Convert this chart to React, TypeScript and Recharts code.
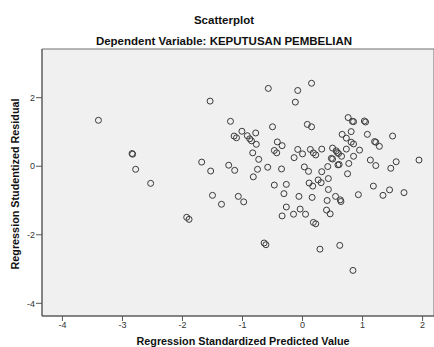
import React from "react";
import { ScatterChart, Scatter, XAxis, YAxis, ReferenceArea } from "recharts";

const chartTitle = "Scatterplot";
const chartSubtitle = "Dependent Variable: KEPUTUSAN PEMBELIAN";
const xLabel = "Regression Standardized Predicted Value";
const yLabel = "Regression Studentized Residual";

const xTicks = [-4, -3, -2, -1, 0, 1, 2];
const yTicks = [-4, -2, 0, 2];

const predicted = [
  -3.4, -2.84, -2.83, -2.78, -2.53, -1.93, -1.89, -1.68, -1.54, -1.53, -1.5, -1.35,
  -1.23, -1.2, -1.14, -1.1, -1.13, -1.07, -1.01, -0.98, -0.92, -0.88, -0.85, -0.83,
  -0.82, -0.78, -0.77, -0.75, -0.73, -0.64, -0.61, -0.57, -0.58, -0.5, -0.47, -0.43,
  -0.47, -0.42, -0.34, -0.35, -0.31, -0.27, -0.27, -0.34, -0.14, -0.15, -0.12, -0.08,
  -0.08, -0.06, -0.04, 0.0, 0.03, 0.1, 0.05, 0.08, 0.15, 0.15, 0.13, 0.11,
  0.17, 0.16, 0.18, 0.22, 0.18, 0.22, 0.26, 0.31, 0.29, 0.32, 0.32, 0.4,
  0.41, 0.42, 0.43, 0.43, 0.46, 0.5, 0.48, 0.5, 0.56, 0.58, 0.6, 0.59,
  0.61, 0.55, 0.63, 0.64, 0.62, 0.65, 0.66, 0.73, 0.73, 0.75, 0.77, 0.76,
  0.83, 0.85, 0.81, 0.81, 0.85, 0.85, 0.84, 0.93, 0.95, 1.03, 1.05, 1.08,
  1.13, 1.18, 1.2, 1.22, 1.22, 1.28, 1.34, 1.45, 1.47, 1.5, 1.56, 1.69, 1.94,
];

const residual = [
  1.34, 0.37, 0.35, -0.09, -0.5, -1.49, -1.55, 0.12, 1.9, -0.14, -0.85, -1.11,
  0.03, 1.31, 0.88, 0.83, -0.12, -0.88, 1.02, -1.04, 0.89, 0.8, 0.74, 0.39,
  -0.31, 0.97, 0.64, -0.09, 0.2, -2.24, -2.29, 2.27, -0.03, 1.15, 0.46, 0.39,
  -0.55, 0.71, 0.6, -0.08, -0.8, -0.53, -1.19, -1.45, 0.25, -1.4, 1.87, 2.21,
  0.49, -0.88, -1.25, 0.36, -0.02, -0.15, -1.4, 1.22, 1.15, 2.42, 0.49, -0.49,
  -0.58, -0.91, 0.39, 0.33, -1.64, -1.68, -0.4, -0.48, -2.42, 0.5, -0.16, -1.28,
  -1.0, -0.01, -0.36, -0.68, -1.39, 0.53, 0.23, 0.21, 0.45, 0.4, 0.37, 0.04,
  0.05, -0.88, -0.98, -1.03, -2.31, 0.29, 0.93, 0.82, 0.5, -0.22, 0.08, 1.42,
  1.31, 1.3, 1.01, 0.7, 0.65, 0.29, -3.04, -0.83, 0.47, 1.32, 1.29, 0.93,
  0.18, -0.58, 0.72, 0.7, 0.02, 0.58, -0.85, -0.69, -0.06, 0.88, 0.13, -0.77, 0.18,
];

const data = predicted.map((x, i) => ({ x, y: residual[i] }));

const FONT = "'Liberation Sans', Arial, sans-serif";

const OpenCircle = (props: any) => {
  const { cx, cy } = props;
  if (cx == null || cy == null) return null;
  return <circle cx={cx} cy={cy} r={3} fill="none" stroke="#3a3a3a" strokeWidth={1} />;
};

export default function App() {
  return (
    <div
      style={{
        position: "absolute",
        left: 0,
        top: 0,
        width: 434,
        height: 347,
        overflow: "hidden",
        background: "#ffffff",
        fontFamily: FONT,
      }}
    >
      <ScatterChart
        width={434}
        height={347}
        margin={{ top: 49, right: 0, bottom: 0, left: 0 }}
      >
        <ReferenceArea
          x1={-4.34}
          x2={2.19}
          y1={-4.37}
          y2={3.42}
          fill="#f0f0f0"
          fillOpacity={1}
          stroke="#707070"
          strokeWidth={1}
          ifOverflow="extendDomain"
        />
        <XAxis
          type="number"
          dataKey="x"
          domain={[-4.34, 2.19]}
          ticks={xTicks}
          allowDataOverflow
          height={31}
          tickSize={5}
          tickMargin={1}
          stroke="#555555"
          tick={{ fill: "#333333", fontSize: 9, fontFamily: FONT }}
        />
        <YAxis
          type="number"
          dataKey="y"
          domain={[-4.37, 3.42]}
          ticks={yTicks}
          allowDataOverflow
          width={42}
          tickSize={6}
          tickMargin={1}
          stroke="#555555"
          tick={{ fill: "#333333", fontSize: 9, fontFamily: FONT }}
        />
        <Scatter data={data} shape={OpenCircle} isAnimationActive={false} />
        <text
          x={224}
          y={24}
          textAnchor="middle"
          fontFamily={FONT}
          fontSize={11.5}
          fontWeight="bold"
          fill="#111111"
        >
          {chartTitle}
        </text>
        <text
          x={224}
          y={45}
          textAnchor="middle"
          fontFamily={FONT}
          fontSize={11.5}
          fontWeight="bold"
          fill="#111111"
        >
          {chartSubtitle}
        </text>
        <text
          x={243}
          y={345}
          textAnchor="middle"
          fontFamily={FONT}
          fontSize={10.8}
          fontWeight="bold"
          fill="#111111"
        >
          {xLabel}
        </text>
        <text
          x={0}
          y={0}
          transform="translate(19,184) rotate(-90)"
          textAnchor="middle"
          fontFamily={FONT}
          fontSize={10.8}
          fontWeight="bold"
          fill="#111111"
        >
          {yLabel}
        </text>
      </ScatterChart>
    </div>
  );
}
